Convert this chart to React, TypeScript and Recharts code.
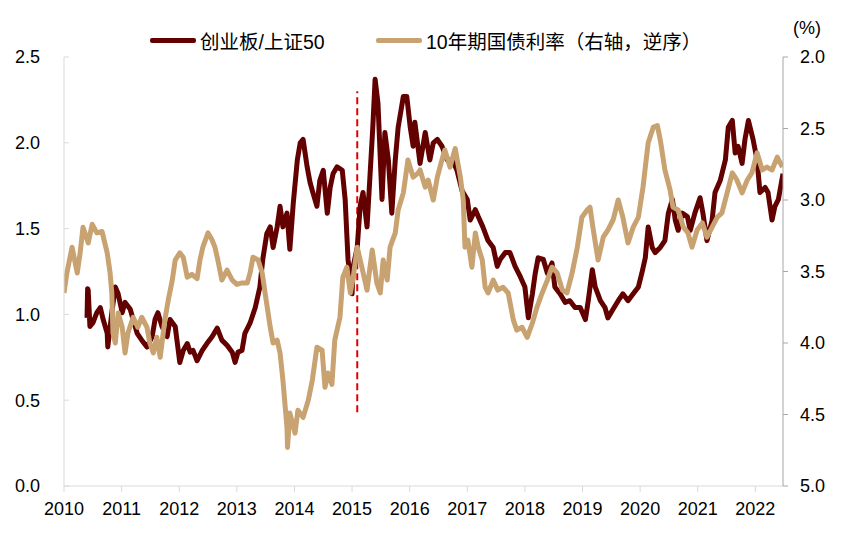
import { LineChart, Line, XAxis, YAxis, ReferenceLine } from 'recharts'

// 创业板/上证50 (left axis): [year, ratio]
const RATIO_SERIES: [number, number][] = [
  [2010.40, 0.98], [2010.41, 1.15], [2010.42, 1.14], [2010.45, 0.93], [2010.50, 0.95],
  [2010.57, 1.01], [2010.63, 1.04], [2010.68, 0.97], [2010.75, 0.89], [2010.76, 0.81],
  [2010.83, 1.01], [2010.89, 1.16], [2010.94, 1.12], [2011.01, 1.01], [2011.06, 1.07],
  [2011.15, 1.03], [2011.20, 0.97], [2011.27, 0.89], [2011.35, 0.85], [2011.44, 0.81],
  [2011.53, 0.87], [2011.58, 0.97], [2011.63, 1.01], [2011.70, 0.93], [2011.79, 0.87],
  [2011.84, 0.97], [2011.93, 0.93], [2012.01, 0.72], [2012.07, 0.79], [2012.14, 0.83],
  [2012.19, 0.78], [2012.24, 0.79], [2012.31, 0.73], [2012.40, 0.79], [2012.48, 0.83],
  [2012.57, 0.87], [2012.66, 0.92], [2012.74, 0.85], [2012.83, 0.82], [2012.92, 0.78],
  [2012.97, 0.72], [2013.02, 0.78], [2013.09, 0.79], [2013.14, 0.89], [2013.23, 0.95],
  [2013.32, 1.04], [2013.40, 1.16], [2013.45, 1.32], [2013.52, 1.47], [2013.58, 1.51],
  [2013.63, 1.39], [2013.70, 1.51], [2013.75, 1.63], [2013.80, 1.51], [2013.87, 1.59],
  [2013.92, 1.38], [2013.98, 1.65], [2014.05, 1.90], [2014.10, 2.00], [2014.15, 2.02],
  [2014.22, 1.86], [2014.27, 1.77], [2014.32, 1.71], [2014.39, 1.63], [2014.44, 1.78],
  [2014.50, 1.84], [2014.57, 1.59], [2014.62, 1.74], [2014.67, 1.82], [2014.74, 1.86],
  [2014.83, 1.84], [2014.88, 1.67], [2014.93, 1.32], [2014.97, 1.20], [2015.00, 1.12],
  [2015.02, 1.28], [2015.09, 1.39], [2015.14, 1.63], [2015.19, 1.71], [2015.26, 1.51],
  [2015.31, 1.80], [2015.36, 2.09], [2015.40, 2.37], [2015.45, 2.23], [2015.52, 1.67],
  [2015.57, 2.06], [2015.63, 1.90], [2015.69, 1.59], [2015.75, 1.90], [2015.80, 2.09],
  [2015.89, 2.27], [2015.95, 2.27], [2016.01, 2.09], [2016.06, 1.98], [2016.09, 2.12],
  [2016.18, 1.88], [2016.27, 2.06], [2016.35, 1.90], [2016.41, 2.00], [2016.48, 2.02],
  [2016.56, 1.98], [2016.65, 1.90], [2016.74, 1.90], [2016.82, 1.84], [2016.91, 1.72],
  [2017.00, 1.67], [2017.05, 1.55], [2017.14, 1.61], [2017.19, 1.57], [2017.27, 1.51],
  [2017.36, 1.43], [2017.45, 1.39], [2017.52, 1.28], [2017.57, 1.32], [2017.66, 1.36],
  [2017.74, 1.36], [2017.83, 1.28], [2017.92, 1.22], [2018.00, 1.16], [2018.06, 0.98],
  [2018.13, 1.12], [2018.18, 1.24], [2018.23, 1.33], [2018.32, 1.32], [2018.39, 1.24],
  [2018.47, 1.30], [2018.52, 1.16], [2018.61, 1.12], [2018.70, 1.07], [2018.78, 1.08],
  [2018.87, 1.04], [2018.96, 1.04], [2019.05, 0.97], [2019.10, 1.08], [2019.17, 1.26],
  [2019.22, 1.16], [2019.31, 1.08], [2019.39, 1.04], [2019.44, 0.98], [2019.53, 1.03],
  [2019.62, 1.08], [2019.70, 1.12], [2019.79, 1.08], [2019.88, 1.12], [2019.97, 1.16],
  [2020.03, 1.24], [2020.09, 1.33], [2020.14, 1.51], [2020.21, 1.39], [2020.26, 1.36],
  [2020.35, 1.39], [2020.43, 1.43], [2020.49, 1.59], [2020.56, 1.67], [2020.61, 1.55],
  [2020.66, 1.49], [2020.73, 1.59], [2020.82, 1.57], [2020.87, 1.49], [2020.95, 1.59],
  [2021.04, 1.68], [2021.09, 1.59], [2021.16, 1.43], [2021.25, 1.55], [2021.30, 1.71],
  [2021.39, 1.78], [2021.48, 1.90], [2021.53, 2.09], [2021.60, 2.13], [2021.65, 1.94],
  [2021.70, 1.98], [2021.77, 1.88], [2021.82, 2.02], [2021.88, 2.13], [2021.96, 2.02],
  [2022.03, 1.90], [2022.08, 1.71], [2022.17, 1.74], [2022.22, 1.71], [2022.29, 1.55],
  [2022.34, 1.63], [2022.40, 1.67], [2022.48, 1.82],
]

// 10年期国债利率 (right axis, reversed): [year, %]
const YIELD_SERIES: [number, number][] = [
  [2010.00, 3.65], [2010.05, 3.51], [2010.14, 3.33], [2010.23, 3.51], [2010.28, 3.37],
  [2010.33, 3.19], [2010.42, 3.30], [2010.49, 3.17], [2010.57, 3.23], [2010.66, 3.22],
  [2010.75, 3.37], [2010.80, 3.51], [2010.83, 3.65], [2010.85, 3.93], [2010.89, 4.00],
  [2010.94, 3.79], [2011.01, 3.89], [2011.06, 4.07], [2011.11, 3.93], [2011.20, 3.82],
  [2011.28, 3.89], [2011.35, 3.82], [2011.44, 3.89], [2011.49, 4.00], [2011.55, 4.07],
  [2011.61, 3.96], [2011.67, 4.10], [2011.75, 3.84], [2011.81, 3.70], [2011.88, 3.56],
  [2011.93, 3.42], [2012.01, 3.37], [2012.07, 3.40], [2012.14, 3.54], [2012.22, 3.52],
  [2012.31, 3.55], [2012.36, 3.42], [2012.41, 3.33], [2012.50, 3.23], [2012.57, 3.28],
  [2012.62, 3.33], [2012.67, 3.42], [2012.74, 3.56], [2012.83, 3.49], [2012.92, 3.56],
  [2013.00, 3.59], [2013.09, 3.58], [2013.18, 3.58], [2013.23, 3.51], [2013.28, 3.40],
  [2013.37, 3.42], [2013.44, 3.51], [2013.49, 3.65], [2013.58, 3.89], [2013.63, 4.00],
  [2013.70, 3.98], [2013.75, 4.07], [2013.80, 4.26], [2013.87, 4.59], [2013.88, 4.73],
  [2013.92, 4.49], [2014.01, 4.63], [2014.06, 4.47], [2014.15, 4.52], [2014.24, 4.40],
  [2014.31, 4.26], [2014.39, 4.03], [2014.48, 4.05], [2014.53, 4.31], [2014.58, 4.21],
  [2014.65, 4.29], [2014.70, 3.98], [2014.79, 3.82], [2014.84, 3.54], [2014.91, 3.47],
  [2014.97, 3.65], [2015.02, 3.54], [2015.09, 3.33], [2015.17, 3.47], [2015.26, 3.63],
  [2015.35, 3.35], [2015.43, 3.58], [2015.49, 3.65], [2015.54, 3.42], [2015.61, 3.56],
  [2015.66, 3.33], [2015.75, 3.23], [2015.80, 3.07], [2015.89, 2.95], [2015.97, 2.72],
  [2016.06, 2.84], [2016.15, 2.81], [2016.18, 2.79], [2016.27, 2.91], [2016.32, 2.86],
  [2016.41, 3.00], [2016.48, 2.84], [2016.56, 2.72], [2016.61, 2.65], [2016.70, 2.77],
  [2016.79, 2.64], [2016.88, 2.84], [2016.93, 3.00], [2016.96, 3.33], [2017.01, 3.28],
  [2017.08, 3.47], [2017.14, 3.23], [2017.19, 3.33], [2017.26, 3.42], [2017.31, 3.61],
  [2017.36, 3.65], [2017.45, 3.56], [2017.53, 3.63], [2017.62, 3.61], [2017.71, 3.65],
  [2017.80, 3.84], [2017.86, 3.91], [2017.95, 3.89], [2018.04, 3.96], [2018.13, 3.86],
  [2018.21, 3.75], [2018.30, 3.65], [2018.39, 3.56], [2018.47, 3.47], [2018.56, 3.51],
  [2018.65, 3.63], [2018.73, 3.65], [2018.82, 3.51], [2018.91, 3.33], [2018.99, 3.12],
  [2019.08, 3.07], [2019.13, 3.05], [2019.18, 3.19], [2019.27, 3.42], [2019.36, 3.26],
  [2019.44, 3.21], [2019.53, 3.14], [2019.62, 3.00], [2019.70, 3.12], [2019.79, 3.30],
  [2019.88, 3.19], [2019.97, 3.12], [2020.05, 2.91], [2020.14, 2.60], [2020.23, 2.49],
  [2020.30, 2.48], [2020.35, 2.58], [2020.43, 2.79], [2020.52, 2.93], [2020.57, 3.05],
  [2020.66, 3.07], [2020.75, 3.19], [2020.83, 3.23], [2020.90, 3.33], [2020.99, 3.21],
  [2021.08, 3.16], [2021.16, 3.26], [2021.25, 3.19], [2021.34, 3.12], [2021.42, 3.09],
  [2021.51, 2.95], [2021.60, 2.81], [2021.68, 2.86], [2021.77, 2.95], [2021.86, 2.86],
  [2021.94, 2.81], [2022.03, 2.67], [2022.12, 2.79], [2022.20, 2.77], [2022.29, 2.79],
  [2022.38, 2.70], [2022.47, 2.77],
]

const YEAR_TICKS = [2010, 2011, 2012, 2013, 2014, 2015, 2016, 2017, 2018, 2019, 2020, 2021, 2022]
const LEFT_TICKS = [0, 0.5, 1, 1.5, 2, 2.5]
const RIGHT_TICKS = [2, 2.5, 3, 3.5, 4, 4.5, 5]

// 红色虚线: 2015年初
const MARKER_YEAR = 2015.09
const MARKER_RANGE = [0.43, 2.3]

const RED = '#630000'
const TAN = '#c8a270'
const FONT = '"Liberation Sans", Arial, "Noto Sans CJK SC", sans-serif'

const ratioData = RATIO_SERIES.map(([year, v]) => ({ year, ratio: v }))
const yieldData = YIELD_SERIES.map(([year, v]) => ({ year, rate: v }))

// 左轴刻度线朝内
const LeftTick = (props: any) => {
  const { x, y, payload } = props
  return (
    <g>
      <line x1={x + 24} x2={x + 29} y1={y} y2={y} stroke="#d9d9d9" />
      <text x={x} y={y} dy="0.355em" textAnchor="end" fontSize={18} fontFamily={FONT} fill="#000">
        {Number(payload.value).toFixed(1)}
      </text>
    </g>
  )
}

const LegendItem = ({ color, label, left }: { color: string; label: string; left: number }) => (
  <div style={{ position: 'absolute', left, top: 28, display: 'flex', alignItems: 'center', height: 24 }}>
    <div style={{ width: 46, height: 5, background: color, borderRadius: 2 }} />
    <span style={{ marginLeft: 4, fontSize: 19.5, fontFamily: FONT, color: '#000', whiteSpace: 'nowrap' }}>{label}</span>
  </div>
)

export default function App() {
  return (
    <div style={{ position: 'absolute', left: 0, top: 0, width: 845, height: 541, background: '#fff' }}>
      <LineChart width={845} height={541} margin={{ top: 57, right: 0, left: 0, bottom: 0 }}>
        <XAxis
          dataKey="year"
          type="number"
          domain={[2010, 2022.48]}
          ticks={YEAR_TICKS}
          allowDataOverflow
          height={55}
          axisLine={{ stroke: '#d9d9d9' }}
          tickLine={{ stroke: '#d9d9d9' }}
          tickSize={6}
          tickMargin={10}
          tick={{ fontSize: 18, fontFamily: FONT, fill: '#000' }}
        />
        <YAxis
          yAxisId="left"
          domain={[0, 2.5]}
          ticks={LEFT_TICKS}
          width={64}
          axisLine={{ stroke: '#d9d9d9' }}
          tickLine={false}
          tickSize={0}
          tickMargin={24}
          tick={<LeftTick />}
        />
        <YAxis
          yAxisId="right"
          orientation="right"
          reversed
          domain={[2, 5]}
          ticks={RIGHT_TICKS}
          width={62}
          axisLine={{ stroke: '#a6a6a6' }}
          tickLine={{ stroke: '#a6a6a6' }}
          tickSize={5}
          tickMargin={12}
          tickFormatter={(v) => Number(v).toFixed(1)}
          tick={{ fontSize: 18, fontFamily: FONT, fill: '#000' }}
        />
        <ReferenceLine
          yAxisId="left"
          segment={[
            { x: MARKER_YEAR, y: MARKER_RANGE[0] },
            { x: MARKER_YEAR, y: MARKER_RANGE[1] },
          ]}
          stroke="#e00000"
          strokeWidth={2}
          strokeDasharray="7 4"
        />
        <Line
          yAxisId="left"
          data={ratioData}
          dataKey="ratio"
          type="linear"
          stroke={RED}
          strokeWidth={5}
          strokeLinejoin="round"
          dot={false}
          isAnimationActive={false}
        />
        <Line
          yAxisId="right"
          data={yieldData}
          dataKey="rate"
          type="linear"
          stroke={TAN}
          strokeWidth={5}
          strokeLinejoin="round"
          dot={false}
          isAnimationActive={false}
        />
      </LineChart>
      <LegendItem color={RED} label="创业板/上证50" left={150} />
      <LegendItem color={TAN} label="10年期国债利率（右轴，逆序）" left={376} />
      <div style={{ position: 'absolute', left: 793, top: 18, fontSize: 18, fontFamily: FONT, color: '#000' }}>(%)</div>
    </div>
  )
}
